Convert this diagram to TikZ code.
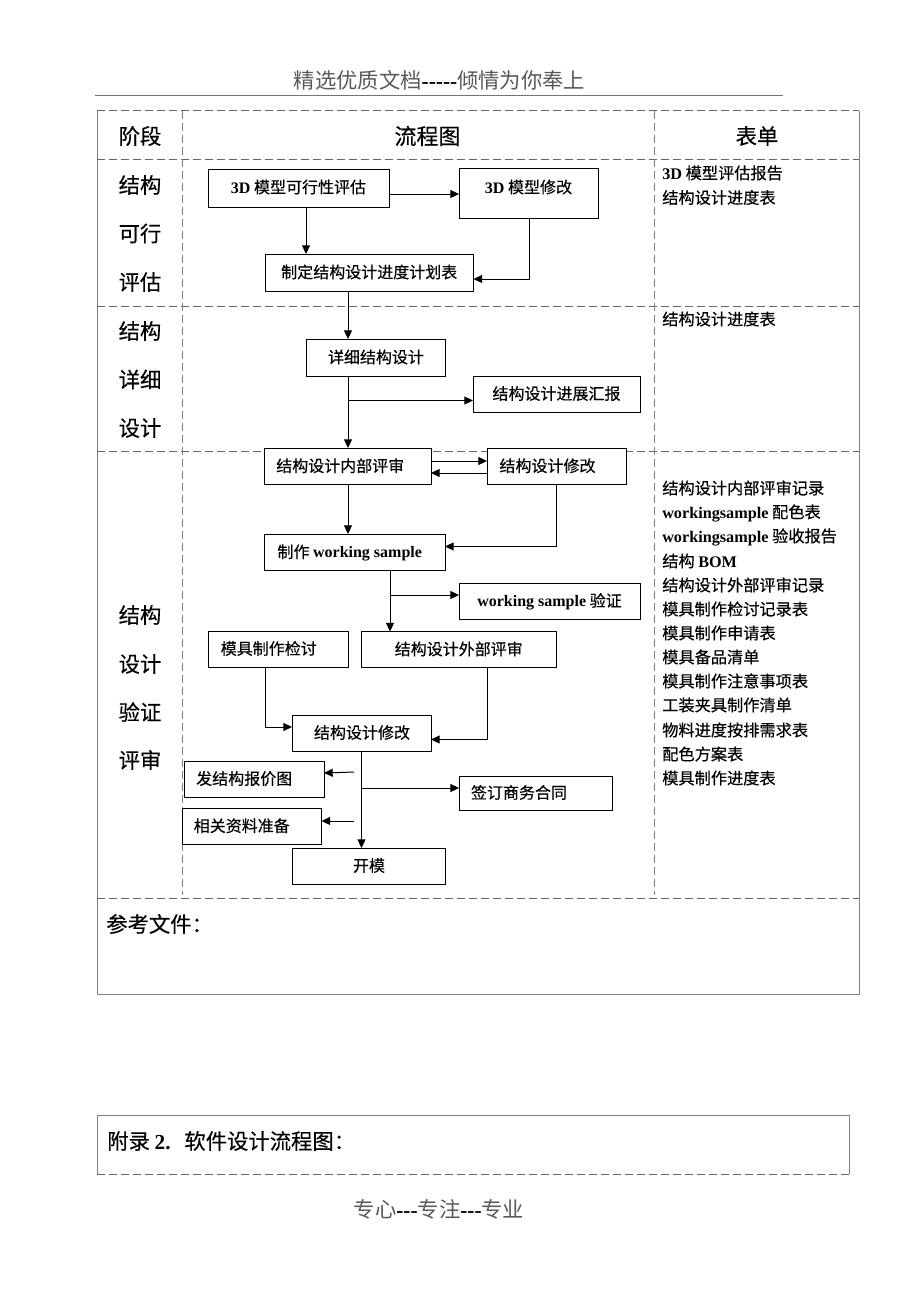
\documentclass[tikz,border=0pt]{standalone}
\usepackage{fontspec}
\setmainfont{Noto Sans CJK SC}[FakeBold=0.35]
\newfontfamily\thinf{Noto Sans CJK SC}
\newfontfamily\lat{Liberation Serif}
\usetikzlibrary{arrows.meta,calc}
\newcommand{\LB}[1]{{\lat\bfseries #1}}
% name, x1,y1,x2,y2 (px), text dx, text dy (px), text
\newcommand{\bx}[8]{\node[flowbox,minimum width={(#4-#2)*0.75pt},minimum height={(#5-#3)*0.75pt}] (#1) at ({(#2+#4)/2},{(#3+#5)/2}) {\kern\dimexpr #6pt*3/2\relax\smash{\raisebox{\dimexpr -#7pt*3/4 - 4.2pt\relax}{#8}}};}
\tikzset{
  flowbox/.style={draw=black,fill=white,line width=0.75pt,inner sep=0pt,outer sep=0pt,font=\fontsize{12pt}{12pt}\selectfont},
  arr/.style={draw=black,line width=0.75pt,-{Triangle[length=6.5pt,width=6pt]}},
  dashh/.style={draw=black!60,line width=0.75pt,dash pattern=on 6pt off 3pt},
  dashv/.style={draw=black!50,line width=0.6pt,dash pattern=on 6pt off 3pt},
  solidg/.style={draw=black!50,line width=0.7pt},
  stagelabel/.style={font=\fontsize{16pt}{16pt}\selectfont,inner sep=0pt},
  formlabel/.style={font=\fontsize{12.15pt}{12pt}\selectfont,inner sep=0pt,anchor=west},
  headtext/.style={font=\fontsize{16pt}{16pt}\selectfont\thinf,inner sep=0pt,text=black!65},
}
\begin{document}
\begin{tikzpicture}[x=0.75pt,y=-0.75pt]
\fill[white] (0,0) rectangle (920,1302);
\useasboundingbox (0,0) rectangle (920,1302);
% page header and footer
\node[headtext] (hdr) at (439.5,80) {精选优质文档\textcolor{black}{\LB{-----}}倾情为你奉上};
\draw[draw=black!55,line width=0.75pt] (95,95.5) -- (783,95.5);
\node[headtext] (ftr) at (439,1209) {专心\textcolor{black}{\LB{---}}专注\textcolor{black}{\LB{---}}专业};
% table grid
\draw[solidg] (97,111) -- (97,994) -- (859,994) -- (859,111);
\foreach \yy in {111,160,306,451,898} \draw[dashh] (97,\yy) -- (859,\yy);
\draw[dashv] (182,111) -- (182,895);
\draw[dashv] (654,111) -- (654,895);
% lower box
\draw[solidg] (97,1174) -- (97,1115) -- (849,1115) -- (849,1174);
\draw[dashh] (97,1174) -- (849,1174);
% headings
\node[stagelabel] (h1) at (140,136) {阶段};
\node[stagelabel,font=\fontsize{16.5pt}{17pt}\selectfont] (h2) at (427.5,136) {流程图};
\node[stagelabel] (h3) at (757,136) {表单};
% stages
\node[stagelabel] (s1) at (140,185) {结构};
\node[stagelabel] (s2) at (140,233.5) {可行};
\node[stagelabel] (s3) at (140,282) {评估};
\node[stagelabel] (s4) at (140,331) {结构};
\node[stagelabel] (s5) at (140,379.5) {详细};
\node[stagelabel] (s6) at (140,428) {设计};
\node[stagelabel] (s7) at (140,615) {结构};
\node[stagelabel] (s8) at (140,664) {设计};
\node[stagelabel] (s9) at (140,712) {验证};
\node[stagelabel] (s10) at (140,760) {评审};
% forms
\node[formlabel] (f1) at (662,173) {\LB{3D} 模型评估报告};
\node[formlabel] (f2) at (662,197.5) {结构设计进度表};
\node[formlabel] (f3) at (662,319) {结构设计进度表};
\node[formlabel] (f4) at (662,488) {结构设计内部评审记录};
\node[formlabel] (f5) at (662,513) {\LB{workingsample} 配色表};
\node[formlabel] (f6) at (662,537) {\LB{workingsample} 验收报告};
\node[formlabel] (f7) at (662,561) {结构 \LB{BOM}};
\node[formlabel] (f8) at (662,585) {结构设计外部评审记录};
\node[formlabel] (f9) at (662,609) {模具制作检讨记录表};
\node[formlabel] (f10) at (662,633) {模具制作申请表};
\node[formlabel] (f11) at (662,657) {模具备品清单};
\node[formlabel] (f12) at (662,681) {模具制作注意事项表};
\node[formlabel] (f13) at (662,705) {工装夹具制作清单};
\node[formlabel] (f14) at (662,730) {物料进度按排需求表};
\node[formlabel] (f15) at (662,754) {配色方案表};
\node[formlabel] (f16) at (662,778) {模具制作进度表};
% bottom texts
\node[stagelabel,anchor=west] (ref) at (106,924) {参考文件：};
\node[stagelabel,anchor=west] (app) at (107,1141) {附录 \LB{2.}\hspace{5.5pt} 软件设计流程图：};
% flow boxes
\bx{a}{208}{170}{389}{207}{0}{-1}{\LB{3D} 模型可行性评估}
\bx{b}{459}{169}{598}{218}{0}{-6}{\LB{3D} 模型修改}
\bx{c}{265}{254}{473.5}{291}{0}{0}{制定结构设计进度计划表}
\bx{d}{306}{339}{445}{376}{0.5}{0}{详细结构设计}
\bx{e}{473}{376}{640}{412}{0}{0}{结构设计进展汇报}
\bx{g}{264.5}{448}{431}{484.5}{-7.5}{0}{结构设计内部评审}
\bx{h}{487}{448}{626}{484.5}{-9}{0}{结构设计修改}
\bx{i}{264.5}{534}{445}{570.5}{-5}{0}{制作 \LB{working sample}}
\bx{j}{459}{583}{640}{619}{0}{0}{\LB{working sample} 验证}
\bx{k}{208.5}{631}{348}{667}{-9.5}{0}{模具制作检讨}
\bx{l}{361.5}{631.5}{556}{667.5}{0}{0}{结构设计外部评审}
\bx{m}{292}{715}{431}{751}{0.5}{0}{结构设计修改}
\bx{n}{184.5}{761}{324}{797}{-10}{0}{发结构报价图}
\bx{o}{182}{808}{321.5}{844.5}{-10}{0}{相关资料准备}
\bx{p}{459}{776}{612}{810}{-16.5}{0}{签订商务合同}
\bx{q}{292.5}{848}{445.5}{884}{0}{0}{开模}
% helper coordinates
\coordinate (Xa) at (306,0);
\coordinate (Xb) at (529,0);
\coordinate (Xc) at (348,0);
\coordinate (Xh) at (556.5,0);
\coordinate (Xi) at (390,0);
\coordinate (Xk) at (265,0);
\coordinate (Xl) at (487.5,0);
\coordinate (Xm) at (361.5,0);
\coordinate (Yab) at (0,194);
\coordinate (Ybc) at (0,279);
\coordinate (Yde) at (0,400.5);
\coordinate (Ygh) at (0,461);
\coordinate (Yhg) at (0,473);
\coordinate (Yhi) at (0,546.5);
\coordinate (Yij) at (0,595);
\coordinate (Ykm) at (0,727);
\coordinate (Ylm) at (0,739.5);
\coordinate (Ymp) at (0,788);
\coordinate (Yfn) at (0,773);
\coordinate (fn) at (354,772);
\coordinate (fo) at (354,821);
% connectors
\draw[arr] (a.east |- Yab) -- (b.west |- Yab);
\draw[arr] (a.south -| Xa) -- (c.north -| Xa);
\draw[arr] (b.south -| Xb) -- (Xb |- Ybc) -- (c.east |- Ybc);
\draw[arr] (c.south -| Xc) -- (d.north -| Xc);
\draw[arr] (d.south -| Xc) -- (g.north -| Xc);
\draw[arr] (Xc |- Yde) -- (e.west |- Yde);
\draw[arr] (g.east |- Ygh) -- (h.west |- Ygh);
\draw[arr] (h.west |- Yhg) -- (g.east |- Yhg);
\draw[arr] (g.south -| Xc) -- (i.north -| Xc);
\draw[arr] (h.south -| Xh) -- (Xh |- Yhi) -- (i.east |- Yhi);
\draw[arr] (i.south -| Xi) -- (l.north -| Xi);
\draw[arr] (Xi |- Yij) -- (j.west |- Yij);
\draw[arr] (k.south -| Xk) -- (Xk |- Ykm) -- (m.west |- Ykm);
\draw[arr] (l.south -| Xl) -- (Xl |- Ylm) -- (m.east |- Ylm);
\draw[arr] (m.south -| Xm) -- (q.north -| Xm);
\draw[arr] (Xm |- Ymp) -- (p.west |- Ymp);
\draw[arr] (fn) -- (n.east |- Yfn);
\draw[arr] (fo) -- (o.east |- fo);
\end{tikzpicture}
\end{document}
